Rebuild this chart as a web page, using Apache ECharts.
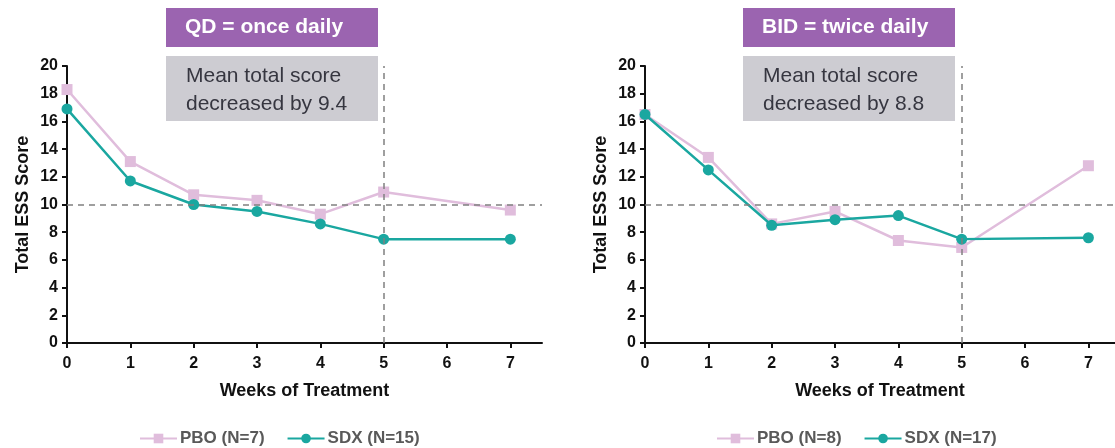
<!DOCTYPE html>
<html>
<head>
<meta charset="utf-8">
<script src="https://cdn.jsdelivr.net/npm/echarts@6/dist/echarts.min.js"></script>
<style>
html,body{margin:0;padding:0;background:#fff;}
#chart{width:1115px;height:448px;}
</style>
</head>
<body>
<div id="chart"></div>
<script>
// ---- Data ----
const weeks = [0, 1, 2, 3, 4, 5, 7];
const xTickValues = [0, 1, 2, 3, 4, 5, 6, 7];

const qdPBO = [18.3, 13.1, 10.7, 10.3, 9.3, 10.9, 9.6];
const qdSDX = [16.9, 11.7, 10.0, 9.5, 8.6, 7.5, 7.5];
const bidPBO = [16.5, 13.4, 8.6, 9.5, 7.4, 6.9, 12.8];
const bidSDX = [16.5, 12.5, 8.5, 8.9, 9.2, 7.5, 7.6];

const qdNames = ['PBO (N=7)', 'SDX (N=15)'];
const bidNames = ['PBO (N=8)', 'SDX (N=17)'];
const panelTags = ['QD = once daily', 'BID = twice daily'];
const panelNotes = ['Mean total score\ndecreased by 9.4', 'Mean total score\ndecreased by 8.8'];
const refY = 10;
const refX = 5;

// ---- Styles ----
const FONT = '"Liberation Sans", Arial, sans-serif';
const PINK = '#e0bddc';
const TEAL = '#1aa7a0';
const AXIS = '#111111';

function pairs(xs, ys) { return xs.map((x, i) => [x, ys[i]]); }

function xAxisCfg(gridIndex, max) {
  return {
    type: 'value', gridIndex, min: 0, max, interval: 1,
    name: 'Weeks of Treatment', nameLocation: 'middle', nameGap: 39,
    nameTextStyle: { fontFamily: FONT, fontWeight: 'bold', fontSize: 18, color: AXIS },
    axisLine: { show: true, onZero: false, lineStyle: { color: AXIS, width: 2 } },
    axisTick: { show: true, length: 5, lineStyle: { color: AXIS, width: 2 }, customValues: xTickValues },
    axisLabel: { fontFamily: FONT, fontWeight: 'bold', fontSize: 16, color: AXIS, margin: 13, customValues: xTickValues },
    splitLine: { show: false }
  };
}
function yAxisCfg(gridIndex) {
  return {
    type: 'value', gridIndex, min: 0, max: 20, interval: 2,
    name: 'Total ESS Score', nameLocation: 'middle', nameGap: 35,
    nameTextStyle: { fontFamily: FONT, fontWeight: 'bold', fontSize: 18, color: AXIS },
    axisLine: { show: true, lineStyle: { color: AXIS, width: 2 } },
    axisTick: { show: true, length: 5, lineStyle: { color: AXIS, width: 2 } },
    axisLabel: { fontFamily: FONT, fontWeight: 'bold', fontSize: 16, color: AXIS, margin: 9 },
    splitLine: { show: false }
  };
}
function refLines() {
  return {
    silent: true, symbol: 'none', label: { show: false },
    lineStyle: { type: [6, 5], color: '#808080', width: 1.5 },
    data: [ { yAxis: refY }, { xAxis: refX } ]
  };
}
function lineSeries(name, data, idx, color, symbol, size, withRef) {
  const s = {
    name, type: 'line', xAxisIndex: idx, yAxisIndex: idx,
    data, symbol, symbolSize: size, showAllSymbol: true,
    itemStyle: { color }, lineStyle: { color, width: 2.5 },
    emphasis: { disabled: true }, animation: false, z: symbol === 'circle' ? 4 : 3
  };
  if (withRef) s.markLine = refLines();
  return s;
}
function legendCfg(names, left) {
  return {
    data: names, left, top: 425, itemWidth: 37, itemHeight: 12, itemGap: 22,
    textStyle: { fontFamily: FONT, fontWeight: 'bold', fontSize: 17, color: '#595959', padding: [0, 0, 0, -2] },
    selectedMode: false
  };
}
function boxGraphics(x, w, tag, note) {
  return [
    { type: 'rect', left: x, top: 8, shape: { width: w, height: 39 }, style: { fill: '#9b64b0' }, z: 10 },
    { type: 'text', left: x + 19, top: 17, style: { text: tag, fill: '#ffffff', font: 'bold 21px ' + FONT }, z: 11 },
    { type: 'rect', left: x, top: 56, shape: { width: w, height: 65 }, style: { fill: '#cdccd2' }, z: 10 },
    { type: 'text', left: x + 20, top: 62, style: { text: note, fill: '#363640', font: '21px ' + FONT, lineHeight: 28 }, z: 11 }
  ];
}

const chart = echarts.init(document.getElementById('chart'), null, { renderer: 'canvas' });
chart.setOption({
  animation: false,
  backgroundColor: '#ffffff',
  grid: [
    { left: 67, top: 66, width: 475, height: 277 },
    { left: 645, top: 66, width: 470, height: 277 }
  ],
  xAxis: [xAxisCfg(0, 7.5), xAxisCfg(1, 7.42)],
  yAxis: [yAxisCfg(0), yAxisCfg(1)],
  legend: [legendCfg(qdNames, 134), legendCfg(bidNames, 711)],
  series: [
    lineSeries(qdNames[0], pairs(weeks, qdPBO), 0, PINK, 'rect', 11, true),
    lineSeries(qdNames[1], pairs(weeks, qdSDX), 0, TEAL, 'circle', 11, false),
    lineSeries(bidNames[0], pairs(weeks, bidPBO), 1, PINK, 'rect', 11, true),
    lineSeries(bidNames[1], pairs(weeks, bidSDX), 1, TEAL, 'circle', 11, false)
  ],
  graphic: boxGraphics(166, 212, panelTags[0], panelNotes[0]).concat(boxGraphics(743, 212, panelTags[1], panelNotes[1]))
});
</script>
</body>
</html>
